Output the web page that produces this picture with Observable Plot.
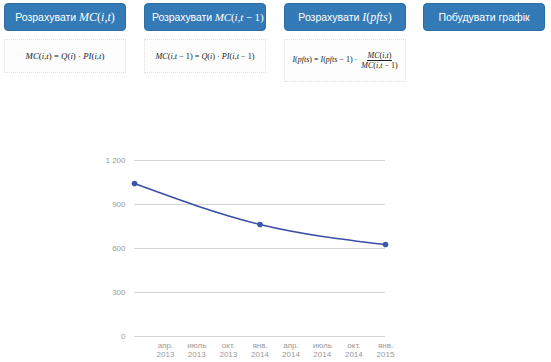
<!DOCTYPE html>
<html>
<head>
<meta charset="utf-8">
<script src="https://cdn.jsdelivr.net/npm/d3@7"></script>
<script src="https://cdn.jsdelivr.net/npm/@observablehq/plot@0.6"></script>
<style>
  html, body { margin: 0; padding: 0; background: #fff; }
  body { width: 551px; height: 362px; position: relative; overflow: hidden; font-family: "Liberation Sans", Arial, sans-serif; }
  .btn { position: absolute; top: 3px; width: 122px; height: 28px; box-sizing: border-box;
         background: #337ab7; border: 1px solid #2e6da4; border-radius: 4px; color: #fff;
         font-size: 10.5px; line-height: 26px; text-align: center; white-space: nowrap; overflow: hidden; padding: 0 8px; }
  .m { font-family: "Liberation Serif", "DejaVu Serif", serif; font-style: italic; font-size: 12px; }
  .box { position: absolute; top: 39px; width: 122px; height: 34px; box-sizing: border-box;
         border: 1px dotted #e0e0e0; background: #fdfdfd; display: flex; align-items: center; justify-content: center;
         font-family: "Liberation Serif", "DejaVu Serif", serif; font-size: 8.8px; color: #222; white-space: nowrap; }
  .box i { font-style: italic; }
  .frac { display: inline-flex; flex-direction: column; align-items: center; vertical-align: middle; margin-left: 2px; }
  .frac span:first-child { border-bottom: 0.6px solid #222; padding: 0 1px; }
  #chart { position: absolute; left: 0; top: 150px; }
</style>
</head>
<body>
<div class="btn" style="left:4px">Розрахувати <span class="m">MC</span><span class="m" style="font-style:normal">(</span><span class="m">i</span><span class="m" style="font-style:normal">,</span><span class="m">t</span><span class="m" style="font-style:normal">)</span></div>
<div class="btn" style="left:144px; text-align:left; padding-left:7px; letter-spacing:-0.1px">Розрахувати <span class="m" style="font-size:11px">MC</span><span class="m" style="font-style:normal;font-size:11px">(</span><span class="m" style="font-size:11px">i</span><span class="m" style="font-style:normal;font-size:11px">,</span><span class="m" style="font-size:11px">t</span><span class="m" style="font-style:normal;font-size:11px"> − 1)</span></div>
<div class="btn" style="left:284px">Розрахувати <span class="m">I</span><span class="m" style="font-style:normal">(</span><span class="m">pfts</span><span class="m" style="font-style:normal">)</span></div>
<div class="btn" style="left:423px">Побудувати графік</div>

<div class="box" style="left:4px"><span><i>MC</i>(<i>i</i>,<i>t</i>) = <i>Q</i>(<i>i</i>) · <i>PI</i>(<i>i</i>,<i>t</i>)</span></div>
<div class="box" style="left:144px; font-size:8.2px"><span><i>MC</i>(<i>i</i>,<i>t</i> − 1) = <i>Q</i>(<i>i</i>) · <i>PI</i>(<i>i</i>,<i>t</i> − 1)</span></div>
<div class="box" style="left:284px; height:43px; font-size:8px"><span><i>I</i>(<i>pfts</i>) = <i>I</i>(<i>pfts</i> − 1) · <span class="frac"><span><i>MC</i>(<i>i</i>,<i>t</i>)</span><span><i>MC</i>(<i>i</i>,<i>t</i> − 1)</span></span></span></div>

<div id="chart"></div>
<script>
const dates = ["2013-01-01", "2014-01-01", "2015-01-01"];
const values = [1043, 764, 627];
const yTicks = [0, 300, 600, 900, 1200];
const yTickLabels = ["0", "300", "600", "900", "1 200"];
const xTicks = ["2013-04-01", "2013-07-01", "2013-10-01", "2014-01-01", "2014-04-01", "2014-07-01", "2014-10-01", "2015-01-01"];
const xTickLabels = ["апр.\n2013", "июль\n2013", "окт.\n2013", "янв.\n2014", "апр.\n2014", "июль\n2014", "окт.\n2014", "янв.\n2015"];

const data = dates.map((d, i) => ({date: new Date(d), value: values[i]}));
const xTickDates = xTicks.map(d => new Date(d));

const chart = Plot.plot({
  width: 551,
  height: 212,
  marginLeft: 134,
  marginRight: 166,
  marginTop: 10,
  marginBottom: 26,
  style: {fontFamily: "'Liberation Sans', Arial, sans-serif", background: "transparent"},
  x: {type: "utc", domain: [new Date("2013-01-01"), new Date("2015-01-01")]},
  y: {domain: [0, 1200]},
  marks: [
    Plot.gridY(yTicks, {stroke: "#d6d6d6", strokeOpacity: 1, strokeWidth: 1}),
    Plot.axisY(yTicks, {tickSize: 0, tickPadding: 9, fontSize: 8, fill: "#999",
      tickFormat: d => yTickLabels[yTicks.indexOf(d)], label: null}),
    Plot.axisX(xTickDates, {tickSize: 0, tickPadding: 5, fontSize: 8, fill: "#999", lineHeight: 1.12,
      tickFormat: d => xTickLabels[xTickDates.findIndex(t => +t === +d)], label: null}),
    Plot.line(data, {x: "date", y: "value", curve: "monotone-x", stroke: "#3a4ea6", strokeWidth: 1.6}),
    Plot.dot(data, {x: "date", y: "value", r: 2.8, fill: "#3b58a8", stroke: "none"})
  ]
});
document.getElementById("chart").appendChild(chart);
</script>
</body>
</html>
